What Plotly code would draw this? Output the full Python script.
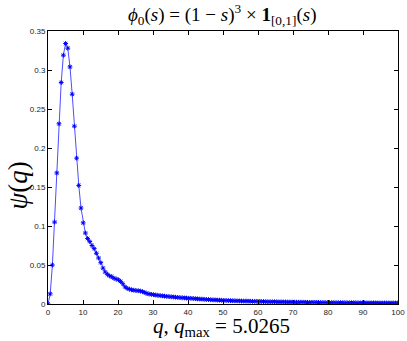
import numpy as np
import plotly.graph_objects as go

# sample grid: q_k = k * pi/5, k = 0..159
q_step = 0.62832
n_points = 160

psi = [
    0.0, 0.013, 0.050, 0.105, 0.168, 0.231, 0.284, 0.319, 0.334, 0.328,
    0.304, 0.269, 0.228, 0.187, 0.152, 0.123, 0.104, 0.091, 0.084, 0.080,
    0.075, 0.071, 0.065, 0.059, 0.053, 0.046, 0.041, 0.038, 0.036, 0.035,
    0.033, 0.032, 0.031, 0.029, 0.026, 0.022, 0.020, 0.019, 0.0182, 0.0177,
    0.0173, 0.0170, 0.0166, 0.0158, 0.0147, 0.0135, 0.0128, 0.0123, 0.0119, 0.0115,
    0.0111, 0.0107, 0.0104, 0.0101, 0.0098, 0.0095, 0.0092, 0.0090, 0.0087, 0.0085,
    0.0082, 0.0080, 0.0078, 0.0076, 0.0074, 0.0072, 0.0070, 0.0068, 0.0066, 0.0064,
    0.0062, 0.0060, 0.0058, 0.0057, 0.0055, 0.0053, 0.0052, 0.0050, 0.0049, 0.0047,
    0.0046, 0.0045, 0.0044, 0.0043, 0.0042, 0.0041, 0.0040, 0.0039, 0.0038, 0.0037,
    0.0037, 0.0036, 0.0035, 0.0034, 0.0034, 0.0033, 0.0032, 0.0032, 0.0031, 0.0030,
    0.0030, 0.0029, 0.0029, 0.0028, 0.0028, 0.0027, 0.0027, 0.0026, 0.0026, 0.0025,
    0.0025, 0.0024, 0.0024, 0.0023, 0.0023, 0.0023, 0.0022, 0.0022, 0.0021, 0.0021,
    0.0021, 0.0020, 0.0020, 0.0020, 0.0019, 0.0019, 0.0019, 0.0018, 0.0018, 0.0018,
    0.0018, 0.0017, 0.0017, 0.0017, 0.0017, 0.0016, 0.0016, 0.0016, 0.0016, 0.0016,
    0.0015, 0.0015, 0.0015, 0.0015, 0.0015, 0.0014, 0.0014, 0.0014, 0.0014, 0.0014,
    0.0014, 0.0013, 0.0013, 0.0013, 0.0013, 0.0013, 0.0013, 0.0013, 0.0012, 0.0012,
]
q = np.arange(n_points) * q_step

x_ticks = [0, 10, 20, 30, 40, 50, 60, 70, 80, 90, 100]
y_ticks = [0, 0.05, 0.1, 0.15, 0.2, 0.25, 0.3, 0.35]
y_labels = ["0", "0.05", "0.1", "0.15", "0.2", "0.25", "0.3", "0.35"]

fig = go.Figure()
fig.add_scatter(x=q, y=psi, mode="lines+markers",
                line=dict(color="rgb(0,0,255)", width=0.7),
                marker=dict(symbol="asterisk-open", size=4,
                            line=dict(color="rgb(0,0,255)", width=1)))

axis_common = dict(showline=True, linecolor="black", linewidth=1, mirror="ticks",
                   ticks="inside", ticklen=4, tickcolor="black", showgrid=False,
                   zeroline=False, automargin=False,
                   tickfont=dict(family="Liberation Sans", size=8, color="#222"))

fig.update_xaxes(range=[0, 100], tickvals=x_ticks, **axis_common)
fig.update_yaxes(range=[0, 0.35], tickvals=y_ticks, ticktext=y_labels, **axis_common)

fig.update_layout(
    width=407, height=341,
    margin=dict(l=48, r=9, t=31, b=37),
    paper_bgcolor="white", plot_bgcolor="white",
    showlegend=False,
)
fig.add_annotation(text="<i>ϕ</i><sub>0</sub>(<i>s</i>) = (1 − <i>s</i>)<sup>3</sup> × <b>1</b><sub>[0,1]</sub>(<i>s</i>)",
                   xref="paper", yref="paper", x=0.497, y=1.062, xanchor="center", yanchor="middle",
                   showarrow=False, font=dict(family="Liberation Serif", size=19, color="black"))
fig.add_annotation(text="<i>ψ</i>(<i>q</i>)", xref="paper", yref="paper", x=-0.085, y=0.435,
                   xanchor="center", yanchor="middle", textangle=-90, showarrow=False,
                   font=dict(family="Liberation Serif", size=27, color="black"))
fig.add_annotation(text="<i>q</i>, <i>q</i><sub>max</sub> = 5.0265", xref="paper", yref="paper",
                   x=0.497, y=-0.083, xanchor="center", yanchor="middle", showarrow=False,
                   font=dict(family="Liberation Serif", size=21, color="black"))

# drop the browser's default 8px body margin so the figure fills the window
fig.write_html("out.html", config={"displayModeBar": False},
               post_script="document.body.style.margin='0';")
